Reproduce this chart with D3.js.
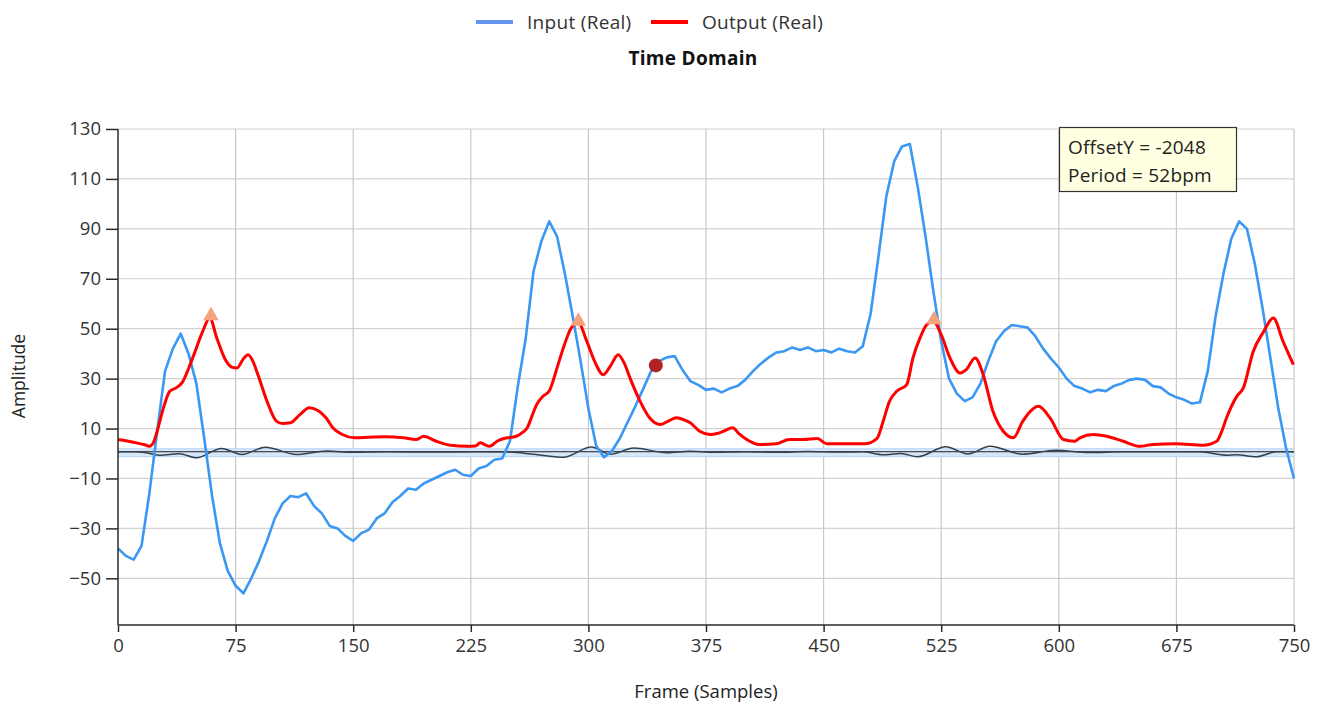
<!DOCTYPE html>
<html>
<head>
<meta charset="utf-8">
<script src="https://cdnjs.cloudflare.com/ajax/libs/d3/7.8.5/d3.min.js"></script>
<style>
  html, body { margin: 0; padding: 0; background: #fff; }
  svg { display: block; font-family: "Segoe UI", "Open Sans", "Noto Sans", sans-serif; }
</style>
</head>
<body>
<svg id="chart" width="1325" height="704"></svg>
<script>
// ---------- DATA ----------
const xTicks = [0, 75, 150, 225, 300, 375, 450, 525, 600, 675, 750];
const yTicks = [-50, -30, -10, 10, 30, 50, 70, 90, 110, 130];
const seriesNames = ["Input (Real)", "Output (Real)"];
const infoLines = ["OffsetY = -2048", "Period = 52bpm"];

// Input (Real): one value every 5 frames, frames 0..750
const inputStep = 5;
const inputValues = [
  -38, -41, -42.5, -37, -16, 9, 33, 42, 48, 40,
  28, 6, -17, -36, -47, -53, -56, -50, -43, -35,
  -26, -20, -17, -17.5, -16, -21, -24, -29, -30, -33,
  -35, -32, -30.5, -26, -24, -19.5, -17, -14, -14.5, -12,
  -10.5, -9, -7.5, -6.5, -8.5, -9, -6, -5, -2.5, -2,
  5, 27, 46, 73, 85, 93, 87, 72, 55, 37,
  18, 3, -1.5, 1, 6, 12.5, 19, 26, 33, 37,
  38.5, 39, 33.5, 29, 27.5, 25.5, 26, 24.5, 26, 27,
  29.5, 33, 36, 38.5, 40.5, 41, 42.5, 41.5, 42.5, 41,
  41.5, 40.5, 42, 41, 40.5, 43, 56, 79, 103, 117,
  123, 124, 107, 87, 65, 45, 30, 24, 21, 22.5,
  28, 37, 45, 49, 51.5, 51, 50.5, 47, 42, 38,
  34.5, 30, 27, 26, 24.5, 25.5, 25, 27, 28, 29.5,
  30, 29.5, 27, 26.5, 24, 22.5, 21.5, 20, 20.5, 33,
  55, 72, 86, 93, 90, 76, 58, 38, 18, 2,
  -10
];

// Output (Real): [frame, value]
const outputPoints = [
  [0,5.6],[10,4.5],[17,3.5],[20,2.9],[23,5],[25,9],[29,18.3],[33,24.9],[37,26.3],[41,28.5],
  [46,35.6],[50,42.3],[54,48.9],[58.5,54.3],[63,46.3],[69,37],[73,34.5],[76,34.3],[80,38],[83,39.6],
  [86,37],[89,32],[95,21],[101,13],[105,12],[110,12.3],[116,15.6],[122,18.3],[128,17],[133,14],
  [137,10.3],[143,7.6],[151,6.3],[160,6.5],[170,6.7],[182,6.3],[190,5.6],[195,6.9],[203,4.9],[212,3.3],
  [222,2.9],[228,3],[231,4.3],[234,3.5],[237,2.9],[242,5],[246,6],[254,6.9],[258,8.5],[261,10.3],
  [264,15],[267,19.6],[271,22.9],[275,25],[280,34.3],[284,42.3],[289,50.3],[293.5,52.5],[299,44.9],[304,36.9],
  [309.5,31.6],[314,35],[319,39.6],[323,36],[326.5,30.3],[333,20.9],[339,14.3],[345.7,11.6],[351,13],[356,14.3],
  [361,13.5],[365,12.3],[371,8.9],[377.6,7.6],[382,8],[386,8.9],[392,10.3],[396,8],[401,5.6],[409,3.6],
  [420,3.9],[428,5.6],[437,5.6],[446,6],[452,3.9],[465,3.9],[476,3.9],[484,6],[488,12.9],[492,20.9],
  [496.6,24.9],[503,27.6],[507,38.3],[511.5,46.3],[515.7,51.6],[520,53],[525,47.6],[530.6,38.3],[537,32.3],[541,33.6],
  [546.6,38.3],[551.8,31.6],[558,16.9],[564.6,8.9],[571,6.3],[577,12.9],[582,17],[587,18.9],[594.4,14.3],[603,5.6],
  [610,4.9],[613.5,6.3],[622,7.6],[630.5,6.9],[641,4.9],[651.8,2.9],[660,3.6],[675,3.9],[692,3.3],[700.7,4.9],
  [704,9],[707,14.3],[713.5,22.9],[717.7,26.3],[724,40.9],[730.7,48.9],[736.8,54.3],[743,44.9],[749.6,35.6]
];

// Baseline (dark wavy) series: [frame, value]
const baselinePoints = [
  [0,0.7],[10,0.7],[18,0.3],[27,-0.7],[39,-0.1],[50,-1.7],[66,2],[79,-0.4],[94,2.5],[114,-0.4],
  [133,1],[150,0.5],[170,0.7],[200,0.6],[230,0.7],[250,0.6],[265,-0.3],[284,-1.5],[302,2.6],[314,-0.3],
  [329,2.2],[350,0.3],[365,0.9],[380,0.5],[400,0.7],[420,0.5],[440,0.8],[460,0.6],[475,0.7],[488,-0.5],
  [499,0],[510,-1.3],[528,2.7],[542,-0.2],[556,2.9],[577,-0.3],[598,1.3],[620,0.4],[640,0.7],[660,0.7],
  [690,0.7],[707,-0.7],[713,-0.5],[726,-1.3],[739,0.7],[750,0.7]
];
const baselineLevel = 0.7;
const bandRange = [-1.3, 1.9];
const bandMid = 0.5;

// Peak markers on output and current-position marker on input
const peakMarkers = [[59.3, 55.2], [293.6, 53], [520.4, 53.6]];
const cursorMarker = [343, 35.3];

// ---------- LAYOUT ----------
const svg = d3.select("#chart");
const pLeft = 118, pRight = 1294, pTop = 129, pBottom = 625;
const x = d3.scaleLinear().domain([0, 750]).range([pLeft, pRight]);
const y = d3.scaleLinear().domain([-68.7, 130]).range([pBottom, pTop]);
const FONT = "'Segoe UI', 'Open Sans', 'Noto Sans', sans-serif";

// grid
const grid = svg.append("g");
grid.selectAll("line.h").data(yTicks).enter().append("line")
  .attr("x1", pLeft).attr("x2", pRight)
  .attr("y1", d => y(d)).attr("y2", d => y(d))
  .attr("stroke", "#d2d2d2").attr("stroke-width", 1.2);
grid.selectAll("line.v").data(xTicks.slice(1)).enter().append("line")
  .attr("x1", d => x(d)).attr("x2", d => x(d))
  .attr("y1", pTop).attr("y2", pBottom)
  .attr("stroke", "#c8c8c8").attr("stroke-width", 1.2);

// band around zero
svg.append("rect")
  .attr("x", pLeft).attr("width", pRight - pLeft)
  .attr("y", y(bandRange[1])).attr("height", y(bandRange[0]) - y(bandRange[1]))
  .attr("fill", "#d6e7fa");
svg.append("line").attr("x1", pLeft).attr("x2", pRight)
  .attr("y1", y(bandRange[1])).attr("y2", y(bandRange[1]))
  .attr("stroke", "#b3d3f3").attr("stroke-width", 1);
svg.append("line").attr("x1", pLeft).attr("x2", pRight)
  .attr("y1", y(bandRange[0])).attr("y2", y(bandRange[0]))
  .attr("stroke", "#b3d3f3").attr("stroke-width", 1);
svg.append("line").attr("x1", pLeft).attr("x2", pRight)
  .attr("y1", y(bandMid)).attr("y2", y(bandMid))
  .attr("stroke", "#f4f4f4").attr("stroke-width", 1.2).attr("stroke-dasharray", "4,3");

// straight baseline level
svg.append("line").attr("x1", pLeft).attr("x2", pRight)
  .attr("y1", y(baselineLevel)).attr("y2", y(baselineLevel))
  .attr("stroke", "#1a1a1a").attr("stroke-width", 1.2);

// wavy baseline
svg.append("path").datum(baselinePoints)
  .attr("fill", "none").attr("stroke", "#34404c").attr("stroke-width", 1.5)
  .attr("d", d3.line().x(d => x(d[0])).y(d => y(d[1])).curve(d3.curveMonotoneX));

// input series
const inputData = inputValues.map((v, i) => [i * inputStep, v]);
svg.append("path").datum(inputData)
  .attr("fill", "none").attr("stroke", "#3a97f3").attr("stroke-width", 2.6)
  .attr("stroke-linejoin", "round")
  .attr("d", d3.line().x(d => x(d[0])).y(d => y(d[1])));

// output series
svg.append("path").datum(outputPoints)
  .attr("fill", "none").attr("stroke", "#ff0000").attr("stroke-width", 3)
  .attr("stroke-linejoin", "round")
  .attr("d", d3.line().x(d => x(d[0])).y(d => y(d[1])).curve(d3.curveMonotoneX));

// peak markers
svg.selectAll("path.peak").data(peakMarkers).enter().append("path")
  .attr("d", d3.symbol().type(d3.symbolTriangle).size(105))
  .attr("transform", d => `translate(${x(d[0])},${y(d[1])})`)
  .attr("fill", "#f7a27e");

// cursor marker
svg.append("circle")
  .attr("cx", x(cursorMarker[0])).attr("cy", y(cursorMarker[1])).attr("r", 7)
  .attr("fill", "#b22222");

// axes
const yAxis = d3.axisLeft(y).tickValues(yTicks).tickSize(12).tickPadding(5);
const xAxis = d3.axisBottom(x).tickValues(xTicks).tickSize(7).tickPadding(7);
const gy = svg.append("g").attr("transform", `translate(${pLeft},0)`).call(yAxis);
const gx = svg.append("g").attr("transform", `translate(0,${pBottom})`).call(xAxis);
[gy, gx].forEach(g => {
  g.select(".domain").attr("stroke", "#2b2b2b").attr("stroke-width", 1.5);
  g.selectAll(".tick line").attr("stroke", "#2b2b2b").attr("stroke-width", 1.5);
  g.selectAll(".tick text").attr("fill", "#333").style("font-size", "18.5px")
    .style("font-family", FONT);
});
gy.select(".domain").attr("d", `M0,${pTop}V${pBottom}`);
gx.select(".domain").attr("d", `M${pLeft},0H${pRight}`);

// axis titles
svg.append("text").attr("transform", "translate(25,376) rotate(-90)")
  .attr("text-anchor", "middle").attr("fill", "#222").style("font-size", "17.5px")
  .text("Amplitude");
svg.append("text").attr("x", 706).attr("y", 698)
  .attr("text-anchor", "middle").attr("fill", "#222").style("font-size", "18.5px")
  .text("Frame (Samples)");

// legend
const legendColors = ["#6495ed", "#ff0000"];
const legendX = [476, 651];
const lg = svg.append("g");
seriesNames.forEach((name, i) => {
  lg.append("line").attr("x1", legendX[i]).attr("x2", legendX[i] + 37)
    .attr("y1", 22).attr("y2", 22)
    .attr("stroke", legendColors[i]).attr("stroke-width", 4);
  lg.append("text").attr("x", legendX[i] + 51).attr("y", 29)
    .attr("fill", "#333").style("font-size", "19px").attr("letter-spacing", "0.3px").text(name);
});

// title
svg.append("text").attr("x", 693).attr("y", 65).attr("text-anchor", "middle")
  .attr("fill", "#111").style("font-size", "19px").style("font-weight", "bold")
  .attr("letter-spacing", "0.3px")
  .text("Time Domain");

// info box
const box = svg.append("g");
box.append("rect").attr("x", 1059.5).attr("y", 127.5).attr("width", 177).attr("height", 64)
  .attr("fill", "#ffffe1").attr("stroke", "#333").attr("stroke-width", 1.2);
infoLines.forEach((t, i) => {
  box.append("text").attr("x", 1068).attr("y", 154 + i * 28)
    .attr("fill", "#222").style("font-size", "19px").attr("letter-spacing", "0.2px").text(t);
});
</script>
</body>
</html>
